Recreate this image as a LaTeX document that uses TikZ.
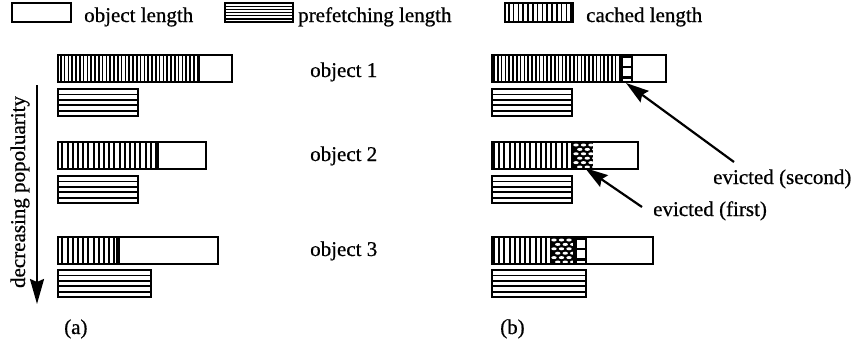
\documentclass[tikz,border=0pt]{standalone}
\usepackage{fontspec}
\setmainfont{Liberation Serif}[FakeBold=0.7]
\usetikzlibrary{arrows.meta,patterns.meta}

% prefetch bar: x1, x2, top y (five horizontal strips)
\newcommand\prefetchbar[3]{%
  \fill[white] (#1,#3) rectangle (#2,#3+27);
  \foreach \k in {1,...,4}{\draw[line width=1.8pt] (#1,#3+5.4*\k) -- (#2,#3+5.4*\k);}
  \draw[bar] (#1,#3) rectangle (#2,#3+27);}

% honeycomb block: x1, x2, top y
\newcommand\hexblock[3]{%
  \begin{scope}
    \clip (#1,#3) rectangle (#2,#3+27);
    \fill[black] (#1,#3) rectangle (#2,#3+27);
    \foreach \i in {0,...,5}{\foreach \j in {0,...,3}{%
      \pgfmathsetmacro\hx{#1+4+7.5*\j+3.75*mod(\i,2)}%
      \pgfmathsetmacro\hy{#3+3+4.4*\i}%
      \fill[white] (\hx,\hy) ellipse [x radius=2.7pt,y radius=1.5pt];}}
  \end{scope}}

% evicted (second) block: x1, x2, top y
\newcommand\squareblock[3]{%
  \fill[black] (#1,#3) rectangle (#2,#3+27);
  \fill[white] (#1+4,#3+2.5) rectangle (#2-2,#3+10.5);
  \fill[white] (#1+4,#3+13) rectangle (#2-2,#3+21);
  \fill[white] (#1+4,#3+23.5) rectangle (#2-2,#3+25.5);}

\begin{document}
\begin{tikzpicture}[x=1pt,y=-1pt,
  bar/.style={draw=black,line width=1.7pt},
  lbl/.style={font=\fontsize{21}{25}\selectfont,inner sep=0pt,anchor=base west},
  densecache/.style={pattern={Lines[angle=90,distance=3.8pt,line width=1.7pt]}},
  cache/.style={pattern={Lines[angle=90,distance=5.2pt,line width=2pt]}},
  bigarrow/.style={line width=2.2pt,-{Stealth[length=25pt,width=14pt,inset=3pt]}}]

\useasboundingbox (0,0) rectangle (856,351);

% ---------- legend ----------
\draw[line width=1.3pt,fill=white] (12,3) rectangle (71,22);
\node[lbl] (legobj) at (84,22) {object length};

\foreach \k in {1,...,5}{\draw[line width=1.3pt] (225,3+3.17*\k) -- (293,3+3.17*\k);}
\draw[line width=1.3pt] (225,3) rectangle (293,22);
\node[lbl] (legpre) at (298,22) {prefetching length};

\fill[pattern={Lines[angle=90,distance=4.8pt,line width=1.6pt]}] (505,3) rectangle (573,22);
\draw[line width=1.3pt] (505,3) rectangle (573,22);
\node[lbl] (legcache) at (586,22) {cached length};

% ---------- popularity axis ----------
\coordinate (popstart) at (37,85);
\coordinate (popend) at (37,304);
\draw[bigarrow] (popstart) -- (popend);
\node[lbl,anchor=base,rotate=90] (poplabel) at (25,192) {decreasing popoluarity};

% ---------- (a) ----------
% object 1
\fill[densecache] (58,55) rectangle (199,82);
\draw[line width=1.7pt] (199,55) -- (199,82);
\draw[bar] (58,55) rectangle (232,82);
\prefetchbar{58}{138}{89}
% object 2
\fill[cache] (58,142) rectangle (158,169);
\draw[line width=1.7pt] (158,142) -- (158,169);
\draw[bar] (58,142) rectangle (206,169);
\prefetchbar{58}{138}{176}
% object 3
\fill[cache] (58,237) rectangle (119,264);
\fill[black] (116,237) rectangle (119.5,264);
\draw[bar] (58,237) rectangle (218,264);
\prefetchbar{58}{151}{270}

\node[lbl] (obj1) at (310,77) {object 1};
\node[lbl] (obj2) at (310,161) {object 2};
\node[lbl] (obj3) at (310,256) {object 3};

\node[lbl] (capa) at (64,334) {(a)};

% ---------- (b) ----------
% object 1
\fill[densecache] (492,55) rectangle (619,82);
\squareblock{619}{633}{55}
\draw[bar] (492,55) rectangle (666,82);
\prefetchbar{492}{572}{89}
% object 2
\fill[cache] (492,142) rectangle (572,169);
\hexblock{572}{593}{142}
\draw[bar] (492,142) rectangle (638,169);
\prefetchbar{492}{572}{176}
% object 3
\fill[cache] (492,237) rectangle (550,264);
\hexblock{550}{573}{237}
\squareblock{573}{587}{237}
\draw[bar] (492,237) rectangle (653,264);
\prefetchbar{492}{586}{270}

\node[lbl] (capb) at (500,334) {(b)};

% ---------- eviction labels ----------
\node[lbl] (evsecond) at (713,184) {evicted (second)};
\node[lbl] (evfirst) at (653,216) {evicted (first)};
\coordinate (evsecondfrom) at (734,162);
\coordinate (evsecondto) at (626,83);
\coordinate (evfirstfrom) at (642,207);
\coordinate (evfirstto) at (585,168);
\draw[line width=2.2pt,-{Stealth[length=23pt,width=14pt,inset=3pt]}] (evsecondfrom) -- (evsecondto);
\draw[line width=2.2pt,-{Stealth[length=23pt,width=14pt,inset=3pt]}] (evfirstfrom) -- (evfirstto);

\end{tikzpicture}
\end{document}
